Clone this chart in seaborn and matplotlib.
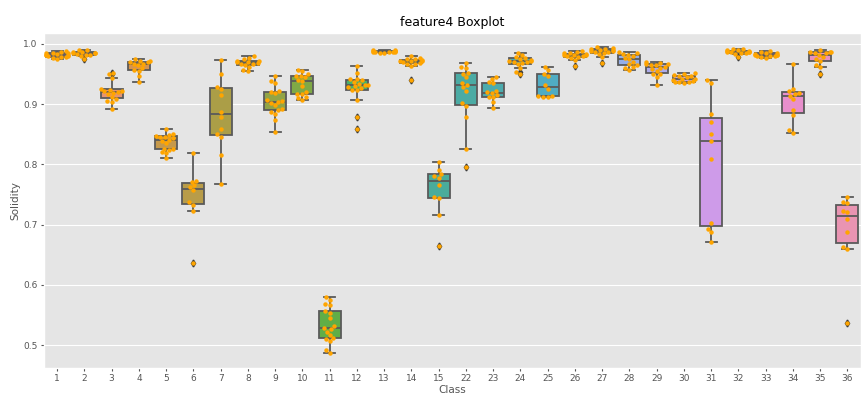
import matplotlib
matplotlib.use('Agg')
import matplotlib.pyplot as plt
import numpy as np
import pandas as pd
import seaborn as sns

# solidity values, one list per class
classes = [str(i) for i in range(1, 16)] + [str(i) for i in range(22, 37)]

c1 = [0.975, 0.977, 0.978, 0.978, 0.979, 0.980, 0.981, 0.981, 0.982, 0.983, 0.984, 0.984, 0.985, 0.986, 0.988]
c2 = [0.974, 0.979, 0.981, 0.982, 0.983, 0.984, 0.984, 0.985, 0.986, 0.987, 0.989, 0.990]
c3 = [0.892, 0.904, 0.905, 0.908, 0.912, 0.917, 0.919, 0.920, 0.921, 0.922, 0.924, 0.925, 0.943, 0.949, 0.952]
c4 = [0.936, 0.946, 0.954, 0.956, 0.960, 0.965, 0.966, 0.967, 0.969, 0.970, 0.971, 0.972, 0.974]
c5 = [0.810, 0.818, 0.820, 0.824, 0.825, 0.826, 0.835, 0.838, 0.841, 0.843, 0.845, 0.846, 0.847, 0.849, 0.851, 0.859]
c6 = [0.637, 0.722, 0.733, 0.737, 0.757, 0.762, 0.765, 0.771, 0.773, 0.818]
c7 = [0.768, 0.816, 0.845, 0.850, 0.858, 0.879, 0.887, 0.915, 0.925, 0.929, 0.950, 0.973]
c8 = [0.955, 0.957, 0.962, 0.964, 0.966, 0.967, 0.968, 0.969, 0.970, 0.971, 0.972, 0.975, 0.977, 0.980]
c9 = [0.854, 0.874, 0.884, 0.887, 0.890, 0.891, 0.898, 0.902, 0.904, 0.905, 0.906, 0.918, 0.920, 0.922, 0.935, 0.938, 0.946]
c10 = [0.907, 0.910, 0.912, 0.916, 0.917, 0.920, 0.930, 0.938, 0.940, 0.944, 0.946, 0.947, 0.950, 0.955, 0.956]
c11 = [0.487, 0.492, 0.506, 0.510, 0.511, 0.516, 0.522, 0.526, 0.528, 0.531, 0.545, 0.553, 0.556, 0.566, 0.568, 0.574, 0.579]
c12 = [0.859, 0.879, 0.907, 0.923, 0.924, 0.926, 0.928, 0.930, 0.931, 0.932, 0.934, 0.937, 0.940, 0.941, 0.942, 0.952, 0.963]
c13 = [0.984, 0.985, 0.986, 0.986, 0.987, 0.987, 0.987, 0.988, 0.988, 0.988, 0.989, 0.989]
c14 = [0.940, 0.963, 0.966, 0.967, 0.968, 0.970, 0.971, 0.971, 0.972, 0.973, 0.974, 0.975, 0.977, 0.979]
c15 = [0.665, 0.716, 0.744, 0.745, 0.765, 0.778, 0.781, 0.784, 0.790, 0.803]
c22 = [0.795, 0.826, 0.878, 0.897, 0.901, 0.922, 0.928, 0.932, 0.935, 0.944, 0.950, 0.952, 0.960, 0.962, 0.968]
c23 = [0.894, 0.903, 0.911, 0.912, 0.915, 0.918, 0.920, 0.922, 0.935, 0.936, 0.942, 0.944]
c24 = [0.950, 0.953, 0.960, 0.966, 0.968, 0.969, 0.970, 0.971, 0.972, 0.973, 0.975, 0.976, 0.978, 0.982, 0.985]
c25 = [0.912, 0.912, 0.913, 0.913, 0.925, 0.931, 0.946, 0.950, 0.956, 0.962]
c26 = [0.963, 0.973, 0.976, 0.978, 0.979, 0.980, 0.981, 0.981, 0.982, 0.983, 0.984, 0.985, 0.986, 0.988]
c27 = [0.968, 0.978, 0.983, 0.985, 0.986, 0.987, 0.988, 0.988, 0.989, 0.990, 0.991, 0.992, 0.993, 0.995]
c28 = [0.957, 0.960, 0.962, 0.964, 0.966, 0.970, 0.975, 0.976, 0.980, 0.982, 0.983, 0.984, 0.986]
c29 = [0.931, 0.945, 0.949, 0.950, 0.955, 0.958, 0.960, 0.962, 0.964, 0.965, 0.966, 0.967, 0.968, 0.969]
c30 = [0.935, 0.936, 0.936, 0.937, 0.938, 0.940, 0.941, 0.942, 0.944, 0.946, 0.947, 0.948, 0.950, 0.952]
c31 = [0.671, 0.687, 0.693, 0.702, 0.808, 0.838, 0.851, 0.870, 0.883, 0.935, 0.939]
c32 = [0.978, 0.983, 0.984, 0.985, 0.986, 0.986, 0.987, 0.987, 0.988, 0.988, 0.989, 0.990, 0.991, 0.992]
c33 = [0.976, 0.978, 0.979, 0.980, 0.980, 0.981, 0.982, 0.982, 0.983, 0.984, 0.985, 0.986, 0.988]
c34 = [0.852, 0.857, 0.881, 0.890, 0.908, 0.914, 0.916, 0.918, 0.921, 0.925, 0.967]
c35 = [0.949, 0.961, 0.965, 0.972, 0.975, 0.978, 0.982, 0.984, 0.985, 0.986, 0.986, 0.987, 0.989]
c36 = [0.537, 0.660, 0.663, 0.687, 0.709, 0.720, 0.722, 0.736, 0.738, 0.745]

values = [c1, c2, c3, c4, c5, c6, c7, c8, c9, c10, c11, c12, c13, c14, c15,
          c22, c23, c24, c25, c26, c27, c28, c29, c30, c31, c32, c33, c34, c35, c36]

rows = []
for cls, vals in zip(classes, values):
    for v in vals:
        rows.append((cls, v))
data = pd.DataFrame(rows, columns=['Class', 'Solidity'])

plt.style.use('ggplot')
plt.rcParams['font.family'] = ['DejaVu Sans']

fig = plt.figure(figsize=(8.65, 4.01), dpi=100)
ax = fig.add_axes([0.0503, 0.0823, 0.9451, 0.8357])

pal = sns.husl_palette(len(classes), l=.7)
sns.boxplot(data=data, x='Class', y='Solidity', hue='Class', order=classes,
            hue_order=classes, palette=pal, legend=False, width=0.8,
            linecolor='#5a5a5a', linewidth=1.3, ax=ax,
            flierprops=dict(marker='d', markersize=3.5, markerfacecolor='#3c3c3c',
                            markeredgecolor='#3c3c3c'))
sns.swarmplot(data=data, x='Class', y='Solidity', order=classes, color='orange',
              size=3.2, ax=ax)

ax.set_ylim(0.462, 1.018)
ax.set_xlim(-0.5, len(classes) - 0.5)
ax.set_yticks([0.5, 0.6, 0.7, 0.8, 0.9, 1.0])
ax.xaxis.grid(False)
ax.tick_params(labelsize=6.5, colors='#555555', length=2.5, pad=2)
ax.set_xlabel('Class', fontsize=7.5, color='#555555', labelpad=1)
ax.set_ylabel('Solidity', fontsize=7.5, color='#555555', labelpad=2)
ax.set_title('feature4 Boxplot', fontsize=9, color='black', pad=5)

fig.savefig('out.png', dpi=100)
